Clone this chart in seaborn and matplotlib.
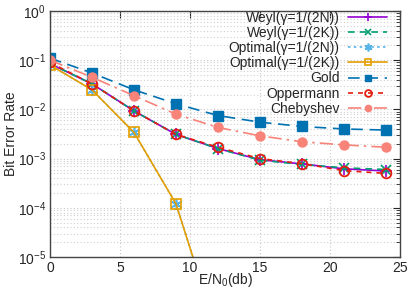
import numpy as np
import pandas as pd
import matplotlib
matplotlib.use("Agg")
import matplotlib.pyplot as plt
import seaborn as sns
from matplotlib.ticker import LogLocator, NullFormatter

snr = [0, 3, 6, 9, 12, 15, 18, 21, 24]
weyl_2n = [0.085, 0.033, 0.0093, 0.0031, 0.0016, 0.00095, 0.00078, 0.00062, 0.00056]
weyl_2k = [0.085, 0.033, 0.0093, 0.0031, 0.0016, 0.00093, 0.00076, 0.00065, 0.00060]
opt_2n = [0.08, 0.025, 0.0034, 0.00012, 2.5e-7, 1e-8, 1e-8, 1e-8, 1e-8]
opt_2k = [0.08, 0.025, 0.0034, 0.00012, 2.5e-7, 1e-8, 1e-8, 1e-8, 1e-8]
gold = [0.11, 0.055, 0.025, 0.013, 0.0075, 0.0055, 0.0045, 0.004, 0.0038]
oppermann = [0.09, 0.033, 0.0093, 0.0031, 0.0017, 0.001, 0.00079, 0.00057, 0.0005]
chebyshev = [0.1, 0.045, 0.019, 0.008, 0.0043, 0.0029, 0.0022, 0.0019, 0.0017]

labels = ["Weyl(γ=1/(2N))", "Weyl(γ=1/(2K))", "Optimal(γ=1/(2N))", "Optimal(γ=1/(2K))",
          "Gold", "Oppermann", "Chebyshev"]
series = [weyl_2n, weyl_2k, opt_2n, opt_2k, gold, oppermann, chebyshev]

styles = [
    dict(color="#9400d3", ls="-", marker="+", ms=8, mew=1.2, mfc="#9400d3"),
    dict(color="#009e73", ls=(0, (4, 3)), marker="x", ms=7, mew=1.2, mfc="#009e73"),
    dict(color="#56b4e9", ls=(0, (1.5, 2)), marker=(6, 2, 0), ms=8, mew=1.2, mfc="#56b4e9"),
    dict(color="#e69f00", ls="-", marker="s", ms=7, mew=1.2, mfc="none"),
    dict(color="#0072b2", ls=(0, (7, 4)), marker="s", ms=6.5, mew=1.0, mfc="#0072b2"),
    dict(color="#e51e10", ls=(0, (3, 3)), marker="o", ms=7, mew=1.3, mfc="none"),
    dict(color="#f88379", ls=(0, (8, 3, 1.5, 3)), marker="o", ms=6.5, mew=1.0, mfc="#f88379"),
]

sns.set_style("white")
plt.rcParams["font.family"] = ["Liberation Sans", "DejaVu Sans"]
plt.rcParams["mathtext.fontset"] = "custom"
plt.rcParams["mathtext.rm"] = "Liberation Sans"
plt.rcParams["mathtext.it"] = "Liberation Sans:italic"
plt.rcParams["mathtext.default"] = "rm"

fig = plt.figure(figsize=(4.15, 2.91), dpi=100)
ax = fig.add_axes([50 / 415, 1 - 257 / 291, 350 / 415, 246 / 291])

for lab, vals, st in zip(labels, series, styles):
    df = pd.DataFrame({"x": snr, "y": vals})
    sns.lineplot(data=df, x="x", y="y", ax=ax, label=lab, color=st["color"],
                 linestyle=st["ls"], marker=st["marker"], markersize=st["ms"],
                 markeredgewidth=st["mew"], markerfacecolor=st["mfc"],
                 markeredgecolor=st["color"], linewidth=1.2)

ax.set_yscale("log")
ax.set_xlim(0, 25)
ax.set_ylim(1e-5, 1)
ax.set_xticks([0, 5, 10, 15, 20, 25])
ax.set_yticks([1e-5, 1e-4, 1e-3, 1e-2, 1e-1, 1])
ax.set_yticklabels([r"$10^{-5}$", r"$10^{-4}$", r"$10^{-3}$", r"$10^{-2}$", r"$10^{-1}$", r"$10^{0}$"])
ax.yaxis.set_minor_locator(LogLocator(base=10, subs=np.arange(2, 10)))
ax.yaxis.set_minor_formatter(NullFormatter())

ax.grid(True, which="major", color="#c8c8c8", ls=(0, (1, 2)), lw=0.8)
ax.grid(True, which="minor", axis="y", color="#d0d0d0", ls=(0, (1, 2)), lw=0.8)
ax.tick_params(which="both", direction="in", top=True, right=True, labelsize=10, pad=3)
ax.tick_params(which="major", length=5, width=0.8)
ax.tick_params(which="minor", length=3, width=0.6)
for s in ax.spines.values():
    s.set_color("#444444")
    s.set_linewidth(1.0)

ax.set_xlabel("E/N$_0$(db)", fontsize=10, labelpad=-3)
ax.set_ylabel("Bit Error Rate", fontsize=10, labelpad=0)

leg = ax.legend(loc="upper right", bbox_to_anchor=(1 - 13 / 350, 1.0),
                frameon=False, markerfirst=False, fontsize=10,
                handlelength=2.8, handletextpad=0.6, labelspacing=0.08,
                borderaxespad=0.0, borderpad=0.0, markerscale=0.7)

fig.savefig("out.png", dpi=100)
